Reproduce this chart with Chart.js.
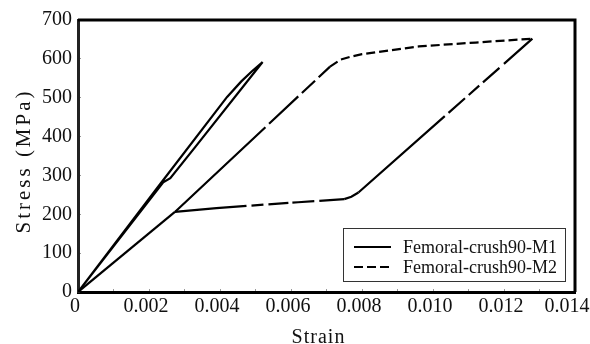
<!DOCTYPE html>
<html>
<head>
<meta charset="utf-8">
<script src="https://cdn.jsdelivr.net/npm/chart.js@4.4.1/dist/chart.umd.min.js"></script>
<style>
  html, body { margin: 0; padding: 0; background: #fff; }
  #wrap { width: 590px; height: 344px; }
</style>
</head>
<body>
<div id="wrap"><canvas id="stressChart" width="590" height="344"></canvas></div>
<script>
// stress-strain curves (strain, stress in MPa)
const m1Strain = [0, 0.0023, 0.0042, 0.0046, 0.0049, 0.0052, 0.0033, 0.0026, 0.0024, 0];
const m1Stress = [0, 276, 502, 542, 568, 592, 373, 293, 282, 0];

const m2Strain = [0, 0.00273, 0.0071, 0.0074, 0.0077, 0.0080, 0.0096, 0.0112, 0.0128,
                  0.0079, 0.0077, 0.0075, 0.0062, 0.0039, 0.00273];
const m2Stress = [0, 206, 580, 598, 606, 612, 632, 642, 652,
                  256, 245, 239, 231, 216, 206];

const seriesNames = ['Femoral-crush90-M1', 'Femoral-crush90-M2'];

const strainTicks = [0, 0.001, 0.002, 0.003, 0.004, 0.005, 0.006, 0.007,
                     0.008, 0.009, 0.010, 0.011, 0.012, 0.013, 0.014];
const strainLabels = ['0', '', '0.002', '', '0.004', '', '0.006', '',
                      '0.008', '', '0.010', '', '0.012', '', '0.014  '];
const stressTicks = [0, 100, 200, 300, 400, 500, 600, 700];
const stressLabels = ['0', '100', '200', '300', '400', '500', '600', '700'];

const xTitle = 'Strain';
const yTitle = 'Stress (MPa)';

// dash pattern for each segment of the M2 path
const longDash = [124, 5, 40, 5, 18, 5, 200];
const shortDash = [9, 4];
const fallDash = [38, 6, 22, 5, 14, 5, 22, 5, 300];
const flatDash = [25, 5, 22, 4, 20, 5, 12, 5, 200];
const m2Dashes = [[], longDash, shortDash, shortDash, shortDash, shortDash, shortDash, shortDash,
                  fallDash, [], [], flatDash, flatDash, flatDash];

const serif = '"Liberation Serif", "Times New Roman", serif';

const toPoints = (xs, ys) => xs.map((x, i) => ({ x: x, y: ys[i] }));

// top and right edges of the plot box
const framePlugin = {
    id: 'frame',
    afterDatasetsDraw(chart) {
        const { ctx, chartArea: a } = chart;
        ctx.save();
        ctx.strokeStyle = '#000';
        ctx.lineWidth = 3;
        ctx.beginPath();
        ctx.moveTo(a.left, a.top);
        ctx.lineTo(a.right, a.top);
        ctx.lineTo(a.right, a.bottom);
        ctx.stroke();
        ctx.restore();
    }
};

// boxed legend in the lower right corner of the plot
const legendBox = {
    id: 'legendBox',
    afterDraw(chart) {
        const { ctx, chartArea: a } = chart;
        const w = 222, h = 53;
        const x0 = a.right - 10 - w, y0 = a.bottom - 11 - h;
        ctx.save();
        ctx.fillStyle = '#fff';
        ctx.fillRect(x0, y0, w, h);
        ctx.strokeStyle = '#333';
        ctx.lineWidth = 1;
        ctx.strokeRect(x0 + 0.5, y0 + 0.5, w, h);
        ctx.font = '18px ' + serif;
        ctx.textBaseline = 'middle';
        chart.data.datasets.forEach((ds, i) => {
            const y = y0 + 19 + i * 20;
            ctx.setLineDash(ds.borderDash || []);
            ctx.lineWidth = 2.2;
            ctx.strokeStyle = '#000';
            ctx.beginPath();
            ctx.moveTo(x0 + 11, y);
            ctx.lineTo(x0 + 48, y);
            ctx.stroke();
            ctx.setLineDash([]);
            ctx.fillStyle = '#111';
            ctx.fillText(ds.label, x0 + 60, y + 1);
        });
        ctx.restore();
    }
};

// axis titles, spaced out a little
const axisTitles = {
    id: 'axisTitles',
    afterDraw(chart) {
        const { ctx, chartArea: a } = chart;
        ctx.save();
        ctx.fillStyle = '#111';
        ctx.textAlign = 'center';
        ctx.textBaseline = 'middle';
        ctx.font = '20px ' + serif;
        ctx.letterSpacing = '1px';
        ctx.fillText(xTitle, (a.left + a.right) / 2 - 8, 338);
        ctx.translate(24, 161);
        ctx.rotate(-Math.PI / 2);
        ctx.font = '21px ' + serif;
        ctx.letterSpacing = '3px';
        ctx.fillText(yTitle, 0, 0);
        ctx.restore();
    }
};

function renderStressChart() {

    const ctx = document.getElementById('stressChart');

    new Chart(ctx, {
        type: 'line',
        data: {
            datasets: [{
                label: seriesNames[0],
                data: toPoints(m1Strain, m1Stress),
                borderColor: '#000',
                borderWidth: 2.2,
                borderDash: [],
                pointRadius: 0,
                tension: 0,
                fill: false
            }, {
                label: seriesNames[1],
                data: toPoints(m2Strain, m2Stress),
                borderColor: '#000',
                borderWidth: 2.2,
                borderDash: shortDash,
                pointRadius: 0,
                tension: 0,
                fill: false,
                segment: {
                    borderDash: c => m2Dashes[c.p0DataIndex]
                }
            }]
        },
        options: {
            responsive: false,
            animation: false,
            layout: {
                padding: { top: 20, right: 15, left: 0, bottom: 0 }
            },
            plugins: {
                legend: { display: false },
                tooltip: { enabled: false }
            },
            scales: {
                x: {
                    type: 'linear',
                    min: 0,
                    max: 0.014,
                    afterBuildTicks: s => { s.ticks = strainTicks.map(v => ({ value: v })); },
                    afterFit: s => { s.height = 52; s.paddingLeft = 0; s.paddingRight = 0; },
                    ticks: {
                        autoSkip: false,
                        maxRotation: 0,
                        padding: 6,
                        labelOffset: -3,
                        color: '#111',
                        font: { family: serif, size: 20 },
                        callback: (v, i) => strainLabels[i]
                    },
                    grid: { drawOnChartArea: false, tickLength: -3, color: '#999' },
                    border: { color: '#000', width: 3 }
                },
                y: {
                    min: 0,
                    max: 700,
                    afterBuildTicks: s => { s.ticks = stressTicks.map(v => ({ value: v })); },
                    afterFit: s => { s.width = 78; s.paddingTop = 0; s.paddingBottom = 0; },
                    ticks: {
                        padding: 9,
                        color: '#111',
                        font: { family: serif, size: 20 },
                        callback: (v, i) => stressLabels[i]
                    },
                    grid: { drawOnChartArea: false, tickLength: -3, color: '#999' },
                    border: { color: '#222', width: 3, dash: [3, 1] }
                }
            }
        },
        plugins: [framePlugin, legendBox, axisTitles]
    });
}

renderStressChart();
</script>
</body>
</html>
